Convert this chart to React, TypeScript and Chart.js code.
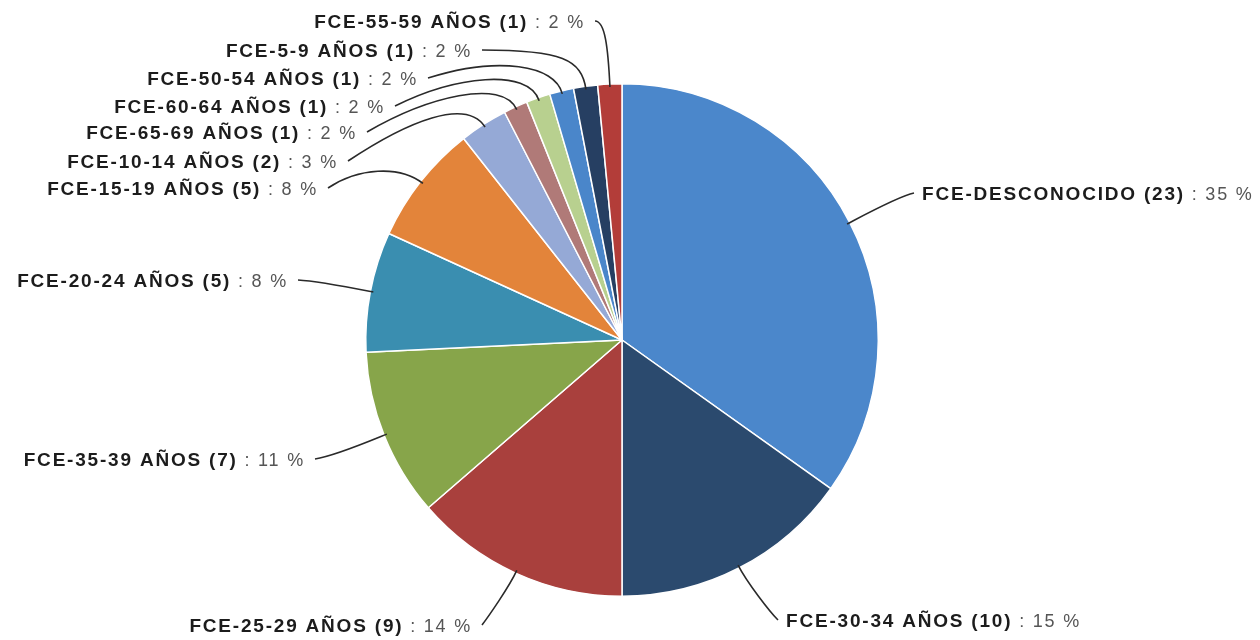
import React, { useEffect, useRef } from 'react';
import { Chart, registerables } from 'chart.js';

Chart.register(...registerables);

const categories = [
  'FCE-DESCONOCIDO',
  'FCE-30-34 AÑOS',
  'FCE-25-29 AÑOS',
  'FCE-35-39 AÑOS',
  'FCE-20-24 AÑOS',
  'FCE-15-19 AÑOS',
  'FCE-10-14 AÑOS',
  'FCE-65-69 AÑOS',
  'FCE-60-64 AÑOS',
  'FCE-50-54 AÑOS',
  'FCE-5-9 AÑOS',
  'FCE-55-59 AÑOS',
];

const counts = [23, 10, 9, 7, 5, 5, 2, 1, 1, 1, 1, 1];

const sliceColors = [
  '#4B87CB',
  '#2B4A6E',
  '#A9403D',
  '#87A54A',
  '#3A8EB0',
  '#E3843A',
  '#95A9D6',
  '#B07A78',
  '#B8D08F',
  '#4A86CA',
  '#263F62',
  '#B33D39',
];

type LabelLayout = {
  x: number;
  y: number;
  align: 'left' | 'right';
  d1: number;
  c2x: number;
  c2y: number;
};

// label placement (layout only)
const labelLayout: LabelLayout[] = [
  { x: 922, y: 195, align: 'left', d1: 12, c2x: -15, c2y: 3 },
  { x: 786, y: 622, align: 'left', d1: 20, c2x: -8, c2y: -8 },
  { x: 472, y: 627, align: 'right', d1: 18, c2x: 6, c2y: -8 },
  { x: 305, y: 461, align: 'right', d1: 12, c2x: 20, c2y: -3 },
  { x: 288, y: 282, align: 'right', d1: 8, c2x: 20, c2y: 1 },
  { x: 318, y: 190, align: 'right', d1: 30, c2x: 30, c2y: -20 },
  { x: 338, y: 163, align: 'right', d1: 35, c2x: 60, c2y: -40 },
  { x: 357, y: 134, align: 'right', d1: 35, c2x: 60, c2y: -35 },
  { x: 385, y: 108, align: 'right', d1: 35, c2x: 60, c2y: -30 },
  { x: 418, y: 80, align: 'right', d1: 30, c2x: 70, c2y: -22 },
  { x: 472, y: 52, align: 'right', d1: 30, c2x: 80, c2y: 0 },
  { x: 585, y: 23, align: 'right', d1: 40, c2x: 10, c2y: 0 },
];

const total = counts.reduce((a, b) => a + b, 0);

const BOLD_FONT = 'bold 19px "Liberation Sans", Arial, sans-serif';
const NORM_FONT = '18px "Liberation Sans", Arial, sans-serif';

const labelPlugin = {
  id: 'pieLabels',
  afterDatasetsDraw(chart: any) {
    const ctx: CanvasRenderingContext2D = chart.ctx;
    const meta = chart.getDatasetMeta(0);
    ctx.save();
    meta.data.forEach((arc: any, i: number) => {
      const lay = labelLayout[i];
      if (!lay) return;
      const { x, y, startAngle, endAngle, outerRadius } = arc.getProps(
        ['x', 'y', 'startAngle', 'endAngle', 'outerRadius'],
        true
      );
      const mid = (startAngle + endAngle) / 2;
      const ux = Math.cos(mid);
      const uy = Math.sin(mid);
      const p0x = x + ux * (outerRadius - 3);
      const p0y = y + uy * (outerRadius - 3);

      const boldText = `${categories[i]} (${counts[i]})`;
      const pct = Math.round((counts[i] / total) * 100);
      const normText = ` : ${pct} %`;

      ctx.textBaseline = 'middle';
      ctx.textAlign = 'left';
      (ctx as any).letterSpacing = '1.8px';
      ctx.font = BOLD_FONT;
      const wb = ctx.measureText(boldText).width;
      ctx.font = NORM_FONT;
      const wn = ctx.measureText(normText).width;
      const startX = lay.align === 'right' ? lay.x - (wb + wn) : lay.x;

      ctx.font = BOLD_FONT;
      ctx.fillStyle = '#1c1c1c';
      ctx.fillText(boldText, startX, lay.y);
      ctx.font = NORM_FONT;
      ctx.fillStyle = '#555555';
      ctx.fillText(normText, startX + wb, lay.y);

      const ex = lay.align === 'right' ? lay.x + 10 : lay.x - 8;
      const ey = lay.y - 2;
      ctx.beginPath();
      ctx.moveTo(p0x, p0y);
      ctx.bezierCurveTo(
        p0x + ux * lay.d1,
        p0y + uy * lay.d1,
        ex + lay.c2x,
        ey + lay.c2y,
        ex,
        ey
      );
      ctx.strokeStyle = '#2a2a2a';
      ctx.lineWidth = 1.6;
      ctx.stroke();
    });
    ctx.restore();
  },
};

export default function App() {
  const canvasRef = useRef<HTMLCanvasElement | null>(null);

  useEffect(() => {
    if (!canvasRef.current) return;
    const chart = new Chart(canvasRef.current, {
      type: 'pie',
      data: {
        labels: categories,
        datasets: [
          {
            data: counts,
            backgroundColor: sliceColors,
            borderColor: '#ffffff',
            borderWidth: 1.5,
          },
        ],
      },
      options: {
        responsive: false,
        animation: false,
        devicePixelRatio: 1,
        layout: { padding: { top: 83, bottom: 43, left: 300, right: 316 } },
        plugins: {
          legend: { display: false },
          tooltip: { enabled: false },
        },
      },
      plugins: [labelPlugin],
    });
    return () => chart.destroy();
  }, []);

  return (
    <div style={{ position: 'fixed', left: 0, top: 0, width: 1260, height: 640, background: '#ffffff' }}>
      <canvas ref={canvasRef} width={1260} height={640} />
    </div>
  );
}
